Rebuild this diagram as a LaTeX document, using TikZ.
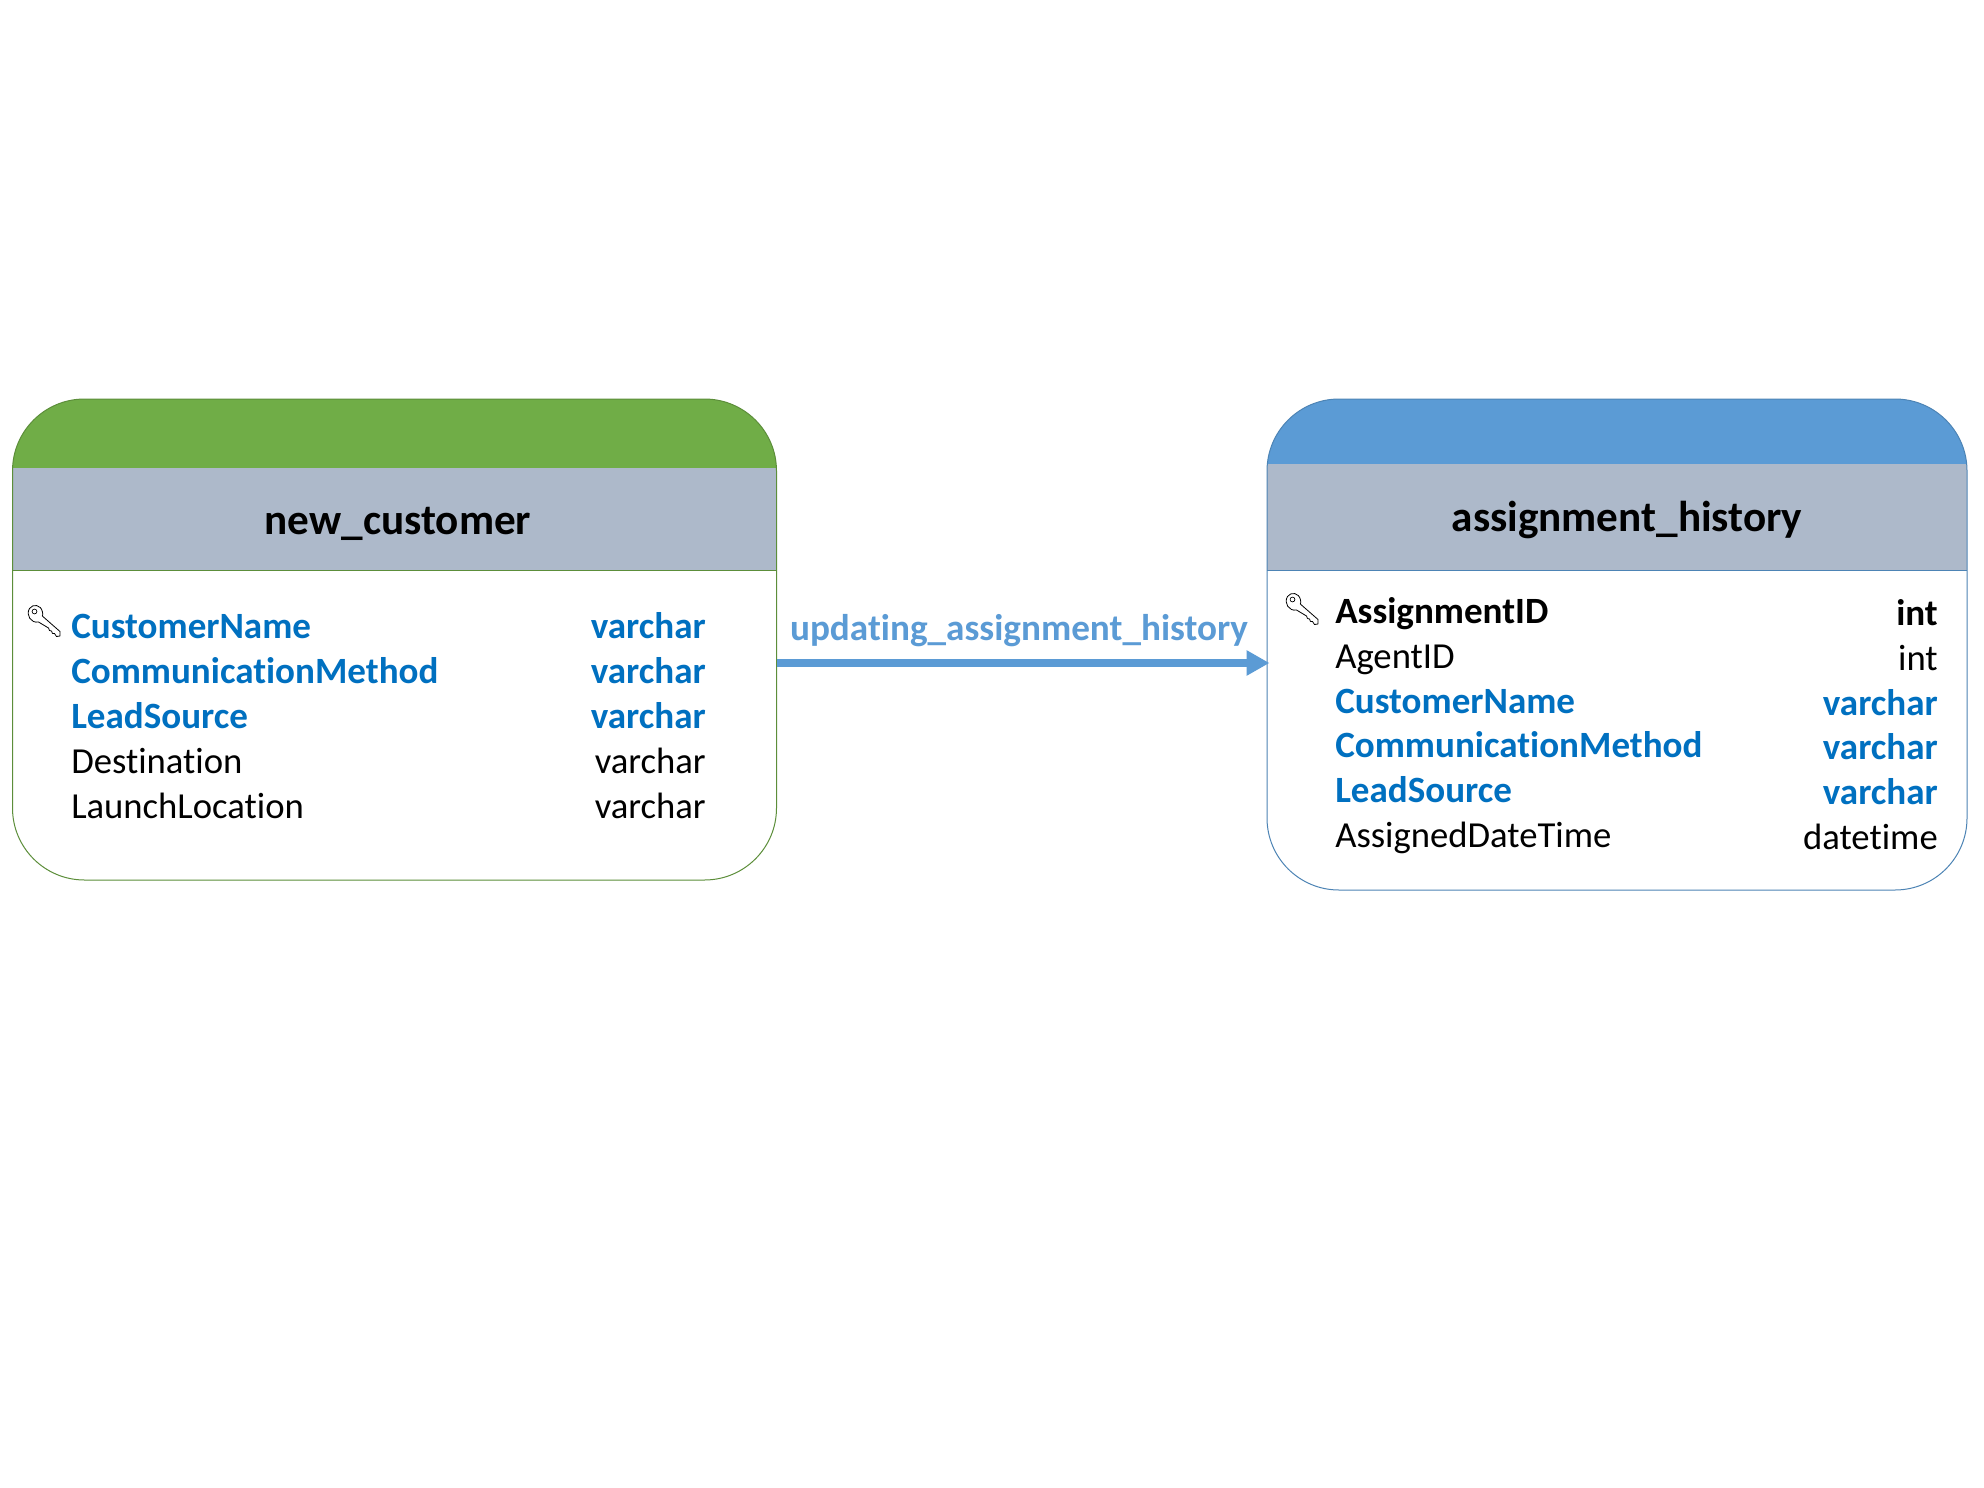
\documentclass[tikz,border=0pt]{standalone}
\usepackage{fontspec}
\setmainfont[Ligatures=NoCommon]{Carlito}
\usetikzlibrary{arrows.meta}
\definecolor{hgreen}{HTML}{70AD47}
\definecolor{hblue}{HTML}{5B9BD5}
\definecolor{hgray}{HTML}{ADB9CA}
\definecolor{fkblue}{HTML}{0070C0}
\colorlet{lgreen}{hgreen!82!black}
\colorlet{lblue}{hblue!85!black}
\tikzset{
  x=0.75pt,y=-0.75pt,
  tablebox/.style={rectangle,fill=white,line width=0.75pt,rounded corners=54pt,inner sep=0pt},
  title/.style={font=\bfseries\fontsize{32.4}{32.4}\selectfont,anchor=base,inner sep=0pt,text=black},
  rowname/.style={font=\fontsize{27.5}{27.5}\selectfont,anchor=base west,inner sep=0pt,text=black},
  rowtype/.style={font=\fontsize{27.5}{27.5}\selectfont,anchor=base east,inner sep=0pt,text=black},
  fk/.style={font=\bfseries\fontsize{27.8}{27.8}\selectfont,text=fkblue},
  pk/.style={font=\bfseries\fontsize{27.8}{27.8}\selectfont},
  keyicon/.pic={
    \draw[black,fill=white,line width=0.6pt,line join=round]
      (1.5,3.5) .. controls (5,-1.5) and (13,-0.5) .. (14.5,7)
      .. controls (15,9) and (14.8,10) .. (14.3,11)
      -- (32,26.5) -- (32,31) -- (28.5,31.5) -- (26.5,28.5) -- (24.5,28.5) -- (23.5,26) -- (21.5,25.5) -- (20.5,23)
      -- (10.5,17)
      .. controls (3,18.5) and (-2.5,10) .. (1.5,3.5) -- cycle;
    \draw[black,line width=0.5pt] (6.5,6.5) circle[radius=2.4];
  }
}
\begin{document}
\begin{tikzpicture}
\useasboundingbox (0,0) rectangle (1984,1488);
\fill[white] (0,0) rectangle (1984,1488);
% left table
\node[tablebox,minimum width=573pt,minimum height=360.75pt] (lefttable) at (394.5,639.5) {};
\begin{scope}
  \clip[rounded corners=54pt] (12.5,399) rectangle (776.5,880);
  \fill[hgreen] (12.5,399) rectangle (776.5,468);
  \fill[hgray] (12.5,468) rectangle (776.5,570.5);
\end{scope}
\draw[lgreen,line width=0.75pt] (12.5,570.5) -- (776.5,570.5);
\draw[lgreen,line width=0.75pt,rounded corners=54pt] (12.5,399) rectangle (776.5,880);
% right table
\node[tablebox,minimum width=525pt,minimum height=368.25pt] (righttable) at (1617,644.5) {};
\begin{scope}
  \clip[rounded corners=54pt] (1267,399) rectangle (1967,890);
  \fill[hblue] (1267,399) rectangle (1967,464);
  \fill[hgray] (1267,464) rectangle (1967,570.5);
\end{scope}
\draw[lblue,line width=0.75pt] (1267,570.5) -- (1967,570.5);
\draw[lblue,line width=0.75pt,rounded corners=54pt] (1267,399) rectangle (1967,890);
% titles
\node[title] (lefttitle) at (398,534) {new\_customer};
\node[title] (righttitle) at (1627,531) {assignment\_history};
% left rows
\pic at (28,605) {keyicon};
\node[rowname,fk] (l1) at (71,638) {CustomerName};
\node[rowname,fk] (l2) at (71,683) {CommunicationMethod};
\node[rowname,fk] (l3) at (71,728) {LeadSource};
\node[rowname] (l4) at (71,773) {Destination};
\node[rowname] (l5) at (71,818) {LaunchLocation};
\node[rowtype,fk] (lt1) at (706,638) {varchar};
\node[rowtype,fk] (lt2) at (706,683) {varchar};
\node[rowtype,fk] (lt3) at (706,728) {varchar};
\node[rowtype] (lt4) at (706,773) {varchar};
\node[rowtype] (lt5) at (706,818) {varchar};
% right rows
\pic at (1286,593) {keyicon};
\node[rowname,pk] (r1) at (1335,623) {AssignmentID};
\node[rowname] (r2) at (1335,668) {AgentID};
\node[rowname,fk] (r3) at (1335,713) {CustomerName};
\node[rowname,fk] (r4) at (1335,757) {CommunicationMethod};
\node[rowname,fk] (r5) at (1335,802) {LeadSource};
\node[rowname] (r6) at (1335,847) {AssignedDateTime};
\node[rowtype,pk] (rt1) at (1938,625) {int};
\node[rowtype] (rt2) at (1938,670) {int};
\node[rowtype,fk] (rt3) at (1938,715) {varchar};
\node[rowtype,fk] (rt4) at (1938,759) {varchar};
\node[rowtype,fk] (rt5) at (1938,804) {varchar};
\node[rowtype] (rt6) at (1938,849) {datetime};
% connector
\coordinate (ay) at (0,663);
\draw[hblue,line width=6pt,-{Triangle[length=17.25pt,width=18pt]},shorten >=-2.25pt] (lefttable.east |- ay) -- (righttable.west |- ay);
\node[font=\bfseries\fontsize{27.9}{27.9}\selectfont,text=hblue,anchor=base,inner sep=0pt] (arrowlabel) at (1019,640) {updating\_assignment\_history};
\end{tikzpicture}
\end{document}
